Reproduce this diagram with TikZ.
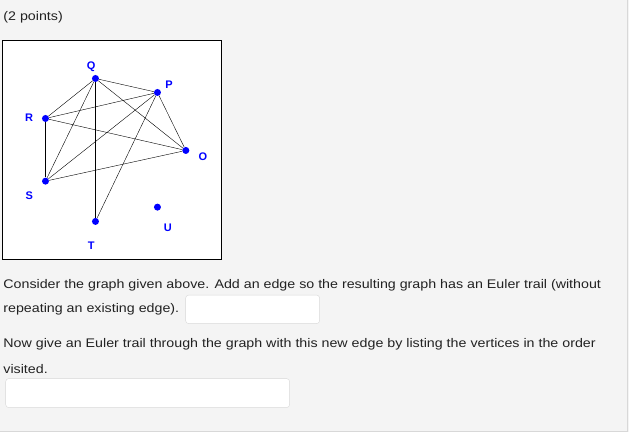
\documentclass[tikz,border=0pt]{standalone}
\usepackage{fontspec}
\setmainfont{Liberation Sans}
\newfontfamily\corps{Liberation Sans}[FakeStretch=1.14]
\definecolor{fond}{HTML}{F4F4F4}
\definecolor{bord}{HTML}{D8D8D8}
\definecolor{encre}{HTML}{222222}
\begin{document}
\begin{tikzpicture}[x=1pt,y=-1pt]
\tikzset{sommet/.style={circle, fill=blue, inner sep=0pt, minimum size=7pt}}
\tikzset{etiquette/.style={text=blue, inner sep=0pt, font=\fontsize{11}{13}\selectfont\bfseries}}
\tikzset{texte/.style={anchor=base west, inner sep=0pt, text=encre, font=\corps\fontsize{12.5}{14}\selectfont}}
\tikzset{champ/.style={draw=bord, fill=white, rounded corners=3pt}}
\fill[fond] (0,0) rectangle (629,432);
\draw[bord] (627,0) -- (627,431) -- (0,431);
\node[texte] (pts) at (3,20) {(2 points)};
\draw[fill=white, line width=1pt] (2.5,40.5) rectangle (221.5,259);
\node[sommet] (Q) at (95.3,78.3) {};
\node[sommet] (P) at (157.3,92.3) {};
\node[sommet] (R) at (45.3,118.3) {};
\node[sommet] (O) at (185.7,150.3) {};
\node[sommet] (S) at (45.3,181) {};
\node[sommet] (U) at (157.3,207) {};
\node[sommet] (T) at (95.3,221.3) {};
\node[etiquette] (lQ) at (91,66.7) {Q};
\node[etiquette] (lP) at (169,84.3) {P};
\node[etiquette] (lR) at (29,117.3) {R};
\node[etiquette] (lO) at (202.7,157) {O};
\node[etiquette] (lS) at (29,195.7) {S};
\node[etiquette] (lU) at (167.7,227.7) {U};
\node[etiquette] (lT) at (91,246) {T};
\draw (Q) -- (P);
\draw (Q) -- (R);
\draw (Q) -- (S);
\draw (Q) -- (T);
\draw (Q) -- (O);
\draw (P) -- (R);
\draw (P) -- (S);
\draw (P) -- (T);
\draw (P) -- (O);
\draw (R) -- (S);
\draw (R) -- (O);
\draw (S) -- (O);
\node[texte] (l1) at (3,288) {Consider the graph given above. Add an edge so the resulting graph has an Euler trail (without};
\node[texte] (l2) at (3,312.5) {repeating an existing edge).};
\draw[champ] (185.5,295) rectangle (319.5,323.5);
\node[texte] (l3) at (3,347.5) {Now give an Euler trail through the graph with this new edge by listing the vertices in the order};
\node[texte] (l4) at (3,373) {visited.};
\draw[champ] (5.5,378.5) rectangle (289.5,407.5);
\end{tikzpicture}
\end{document}
